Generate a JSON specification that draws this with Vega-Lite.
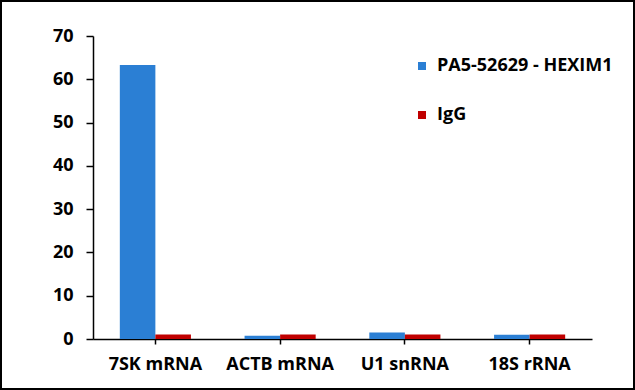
{
  "$schema": "https://vega.github.io/schema/vega-lite/v6.json",
  "width": 635,
  "height": 390,
  "autosize": "none",
  "padding": 0,
  "background": "white",
  "config": {
    "view": {"stroke": "black", "strokeWidth": 4},
    "font": "Open Sans",
    "axis": {"labelFont": "Open Sans", "labelFontWeight": "bold", "labelFontSize": 18, "labelColor": "black", "domainColor": "black", "tickColor": "black", "domainWidth": 1.5, "tickWidth": 1.5, "grid": false, "title": null}
  },
  "data": {
    "values": [
      {"target": "7SK mRNA", "antibody": "PA5-52629 - HEXIM1", "value": 63.3},
      {"target": "7SK mRNA", "antibody": "IgG", "value": 1.05},
      {"target": "ACTB mRNA", "antibody": "PA5-52629 - HEXIM1", "value": 0.75},
      {"target": "ACTB mRNA", "antibody": "IgG", "value": 1.05},
      {"target": "U1 snRNA", "antibody": "PA5-52629 - HEXIM1", "value": 1.5},
      {"target": "U1 snRNA", "antibody": "IgG", "value": 1.05},
      {"target": "18S rRNA", "antibody": "PA5-52629 - HEXIM1", "value": 1.0},
      {"target": "18S rRNA", "antibody": "IgG", "value": 1.05}
    ]
  },
  "mark": {"type": "bar"},
  "encoding": {
    "x": {
      "field": "target", "type": "nominal",
      "sort": ["7SK mRNA", "ACTB mRNA", "U1 snRNA", "18S rRNA"],
      "scale": {"range": [93, 592], "paddingInner": 0.43, "paddingOuter": 0.215},
      "axis": {"labelAngle": 0, "offset": -51, "tickSize": 5, "labelPadding": 11}
    },
    "xOffset": {
      "field": "antibody", "type": "nominal",
      "sort": ["PA5-52629 - HEXIM1", "IgG"]
    },
    "y": {
      "field": "value", "type": "quantitative",
      "scale": {"domain": [0, 70], "range": [339, 36], "nice": false},
      "axis": {"values": [0, 10, 20, 30, 40, 50, 60, 70], "offset": -93, "tickSize": 7, "labelPadding": 13}
    },
    "color": {
      "field": "antibody", "type": "nominal",
      "sort": ["PA5-52629 - HEXIM1", "IgG"],
      "scale": {"domain": ["PA5-52629 - HEXIM1", "IgG"], "range": ["#2B7FD4", "#C00000"]},
      "legend": {
        "title": null, "orient": "none", "legendX": 413, "legendY": 57,
        "symbolType": "square", "symbolSize": 64, "symbolStrokeWidth": 0,
        "labelFont": "Open Sans", "labelFontWeight": "bold", "labelFontSize": 18, "labelColor": "black", "labelLimit": 0,
        "rowPadding": 31, "labelOffset": 6
      }
    }
  }
}
